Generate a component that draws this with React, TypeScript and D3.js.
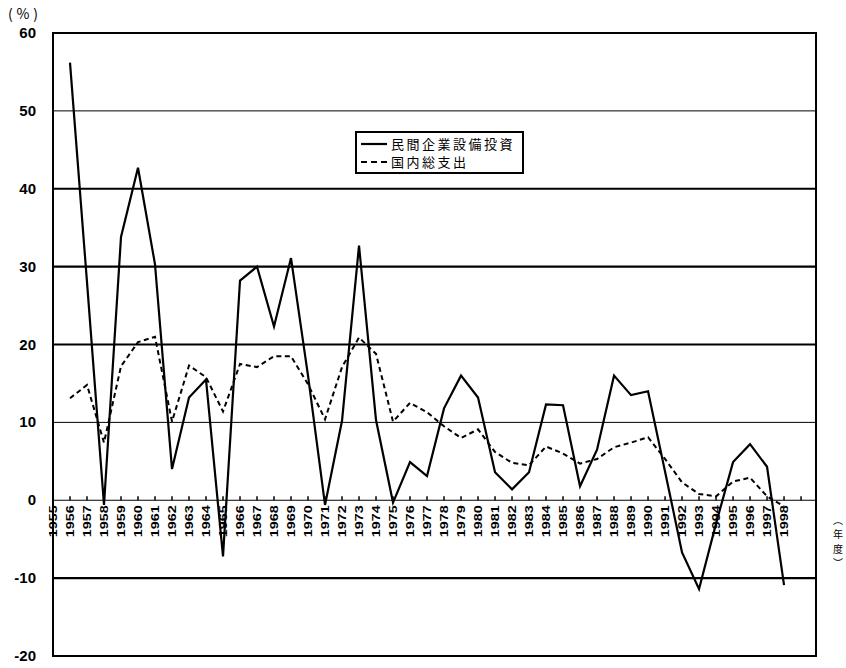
import * as d3 from "d3";
import { useEffect, useRef } from "react";

// 年度
const years = d3.range(1956, 1999);
const labelYears = d3.range(1955, 1999);

// 民間企業設備投資 (前年度比, %)
const investment = [
  56.2, 28, -0.6, 33.8, 42.7, 30.3, 4.0, 13.2, 15.5, -7.2, 28.2, 30.0, 22.3,
  31.1, 16, -0.6, 10.2, 32.7, 10.3, -0.3, 4.9, 3.1, 11.8, 16.0, 13.2, 3.6,
  1.4, 3.6, 12.3, 12.2, 1.8, 6.5, 16.0, 13.5, 14.0, 3.7, -6.7, -11.4, -3.0,
  4.9, 7.2, 4.3, -10.9,
];

// 国内総支出 (前年度比, %)
const gde = [
  13.1, 14.8, 7.4, 17.2, 20.3, 21.0, 10.1, 17.3, 15.8, 11.4, 17.5, 17.1, 18.5,
  18.5, 14.9, 10.4, 17.1, 20.9, 18.8, 10.1, 12.5, 11.3, 9.5, 8.0, 9.1, 6.2,
  4.8, 4.5, 6.9, 6.0, 4.7, 5.3, 6.8, 7.4, 8.1, 5.3, 2.3, 0.8, 0.5, 2.4, 2.9,
  0.5, -0.8,
];

const yTicks = [60, 50, 40, 30, 20, 10, 0, -10, -20];
const thickGrid = [40, 30, 20, -10];

const seriesNames = ["民間企業設備投資", "国内総支出"];
const xUnit = ["︵", "年", "度", "︶"];

const App = () => {
  const ref = useRef<SVGSVGElement>(null);

  useEffect(() => {
    const svg = d3.select(ref.current);
    svg.selectAll("*").remove();
    const width = 846;
    const height = 668;
    svg.attr("width", width).attr("height", height);

    const left = 53;
    const right = 816;
    const top = 33;
    const bottom = 656;

    const x = d3.scaleLinear().domain([1955, 1999.88]).range([left, right]);
    const y = d3.scaleLinear().domain([-20, 60]).range([bottom, top]);

    // gridlines
    svg
      .append("g")
      .selectAll("line")
      .data(yTicks.filter((v) => v !== 60 && v !== -20 && v !== 0))
      .enter()
      .append("line")
      .attr("x1", left)
      .attr("x2", right)
      .attr("y1", (d) => y(d))
      .attr("y2", (d) => y(d))
      .attr("stroke", "#000")
      .attr("stroke-width", (d) => (thickGrid.includes(d) ? 2.2 : 1));

    // zero axis with upward ticks
    svg
      .append("line")
      .attr("x1", left)
      .attr("x2", right)
      .attr("y1", y(0))
      .attr("y2", y(0))
      .attr("stroke", "#000")
      .attr("stroke-width", 1.2);

    svg
      .append("g")
      .selectAll("line")
      .data(d3.range(1956, 2000))
      .enter()
      .append("line")
      .attr("x1", (d) => x(d))
      .attr("x2", (d) => x(d))
      .attr("y1", y(0))
      .attr("y2", y(0) - 4)
      .attr("stroke", "#000")
      .attr("stroke-width", 1.5);

    // frame
    svg
      .append("rect")
      .attr("x", left)
      .attr("y", top)
      .attr("width", right - left)
      .attr("height", bottom - top)
      .attr("fill", "none")
      .attr("stroke", "#000")
      .attr("stroke-width", 2);

    // y tick labels
    svg
      .append("g")
      .selectAll("text")
      .data(yTicks)
      .enter()
      .append("text")
      .attr("x", 36)
      .attr("y", (d) => y(d) + 5)
      .attr("text-anchor", "end")
      .attr("font-family", "'Liberation Sans', Arial, sans-serif")
      .attr("font-weight", "bold")
      .attr("font-size", 15)
      .text((d) => d);

    svg
      .append("text")
      .attr("x", 8)
      .attr("y", 19)
      .attr("font-family", "'Noto Sans CJK JP', sans-serif")
      .attr("font-size", 14)
      .attr("textLength", 30)
      .text("(%)");

    // year labels
    svg
      .append("g")
      .selectAll("text")
      .data(labelYears)
      .enter()
      .append("text")
      .attr(
        "transform",
        (d) => `translate(${x(d) + 4},${y(0) + 37}) rotate(-90)`
      )
      .attr("font-family", "'Liberation Sans', Arial, sans-serif")
      .attr("font-weight", "bold")
      .attr("font-size", 10.5)
      .attr("textLength", 32)
      .attr("lengthAdjust", "spacingAndGlyphs")
      .text((d) => d);

    // (年度) stacked one glyph per row
    svg
      .append("g")
      .selectAll("text")
      .data(xUnit)
      .enter()
      .append("text")
      .attr("x", 838)
      .attr("y", (_, i) => 519 + i * 14.5)
      .attr("text-anchor", "middle")
      .attr("dominant-baseline", "central")
      .attr("font-family", "'Noto Sans CJK JP', sans-serif")
      .attr("font-size", 10)
      .text((d) => d);

    const line = d3
      .line<number>()
      .x((_, i) => x(years[i]))
      .y((d) => y(d));

    svg
      .append("path")
      .datum(gde)
      .attr("d", line)
      .attr("fill", "none")
      .attr("stroke", "#000")
      .attr("stroke-width", 2)
      .attr("stroke-dasharray", "5,3.5");

    svg
      .append("path")
      .datum(investment)
      .attr("d", line)
      .attr("fill", "none")
      .attr("stroke", "#000")
      .attr("stroke-width", 2.2)
      .attr("stroke-linejoin", "miter");

    // legend
    const lg = svg.append("g").attr("transform", "translate(356,132)");
    lg.append("rect")
      .attr("width", 167)
      .attr("height", 41)
      .attr("fill", "#fff")
      .attr("stroke", "#000")
      .attr("stroke-width", 2);
    const lgText = lg
      .append("text")
      .attr("font-family", "'Noto Sans CJK JP', sans-serif")
      .attr("font-size", 13)
      .attr("letter-spacing", 2.5);
    seriesNames.forEach((name, i) => {
      const ly = 12 + i * 18;
      lg.append("line")
        .attr("x1", 5)
        .attr("x2", 31)
        .attr("y1", ly)
        .attr("y2", ly)
        .attr("stroke", "#000")
        .attr("stroke-width", 2.2)
        .attr("stroke-dasharray", i === 0 ? null : "6,4");
      lgText
        .append("tspan")
        .attr("x", 35)
        .attr("y", ly + 5)
        .text(name);
    });
  }, []);

  return (
    <svg
      ref={ref}
      style={{ position: "absolute", left: 0, top: 0, background: "#fff" }}
    ></svg>
  );
};

export default App;
